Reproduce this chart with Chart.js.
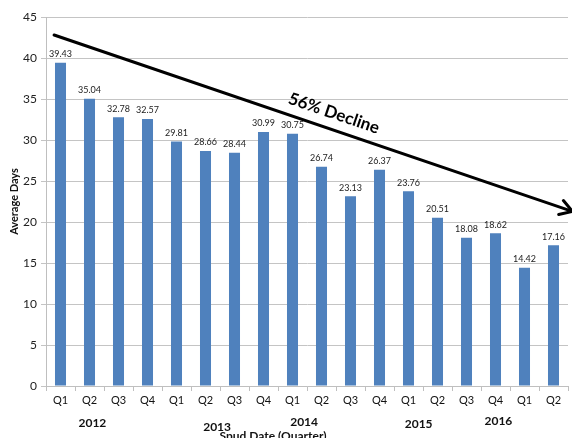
<!DOCTYPE html>
<html>
<head>
<meta charset="utf-8">
<script src="https://cdn.jsdelivr.net/npm/chart.js@4"></script>
<style>
  html, body { margin: 0; padding: 0; background: #fff; }
  #wrap { width: 572px; height: 438px; }
</style>
</head>
<body>
<div id="wrap"><canvas id="chart"></canvas></div>
<script>
// data
const quarters = ['Q1', 'Q2', 'Q3', 'Q4', 'Q1', 'Q2', 'Q3', 'Q4', 'Q1', 'Q2', 'Q3', 'Q4', 'Q1', 'Q2', 'Q3', 'Q4', 'Q1', 'Q2'];
const avg_days = [39.43, 35.04, 32.78, 32.57, 29.81, 28.66, 28.44, 30.99, 30.75, 26.74, 23.13, 26.37, 23.76, 20.51, 18.08, 18.62, 14.42, 17.16];
const year_labels = ['2012', '2013', '2014', '2015', '2016'];
const y_title = 'Average Days';
const x_title = 'Spud Date (Quarter)';
const arrow_label = '56% Decline';

const font_family = 'Lato, "Open Sans", sans-serif';

// etiquetas de valor encima de cada barra
const value_labels = {
  id: 'value_labels',
  afterDatasetsDraw(chart) {
    const ctx = chart.ctx;
    const meta = chart.getDatasetMeta(0);
    ctx.save();
    ctx.font = '9px ' + font_family;
    ctx.fillStyle = '#222';
    ctx.textAlign = 'center';
    ctx.textBaseline = 'bottom';
    meta.data.forEach((bar, i) => {
      ctx.fillText(avg_days[i].toFixed(2), bar.x, bar.y - 4);
    });
    ctx.restore();
  }
};

// flecha de tendencia, años y título del eje X
const extras = {
  id: 'extras',
  afterDraw(chart) {
    const ctx = chart.ctx;
    const x = chart.scales.x;
    const y = chart.scales.y;
    const step = x.getPixelForValue(1) - x.getPixelForValue(0);
    const px = idx => x.getPixelForValue(0) + idx * step;

    // arrow
    const x1 = px(-0.22), y1 = y.getPixelForValue(42.8);
    const x2 = px(17.65), y2 = y.getPixelForValue(21.3);
    const ang = Math.atan2(y2 - y1, x2 - x1);
    ctx.save();
    ctx.strokeStyle = '#000';
    ctx.lineWidth = 3;
    ctx.lineCap = 'round';
    ctx.beginPath();
    ctx.moveTo(x1, y1);
    ctx.lineTo(x2, y2);
    ctx.stroke();
    const head = 14;
    ctx.beginPath();
    ctx.moveTo(x2 - head * Math.cos(ang - 0.55), y2 - head * Math.sin(ang - 0.55));
    ctx.lineTo(x2, y2);
    ctx.lineTo(x2 - head * Math.cos(ang + 0.55), y2 - head * Math.sin(ang + 0.55));
    ctx.stroke();

    // arrow label
    const t = 0.53;
    const cx = x1 + (x2 - x1) * t, cy = y1 + (y2 - y1) * t;
    ctx.translate(cx + 16 * Math.sin(ang), cy - 16 * Math.cos(ang));
    ctx.rotate(ang);
    ctx.font = 'bold 17px ' + font_family;
    ctx.fillStyle = '#000';
    ctx.textAlign = 'center';
    ctx.textBaseline = 'middle';
    ctx.fillText(arrow_label, 0, 0);
    ctx.restore();

    // year labels
    const year_pos = [[1.1, 423], [5.4, 427], [8.4, 422], [12.35, 424], [15.1, 421]];
    ctx.save();
    ctx.font = 'bold 12px ' + font_family;
    ctx.fillStyle = '#111';
    ctx.textAlign = 'center';
    ctx.textBaseline = 'middle';
    year_labels.forEach((lab, i) => {
      ctx.fillText(lab, px(year_pos[i][0]), year_pos[i][1]);
    });
    ctx.fillText(x_title, 273, 436);
    ctx.restore();
  }
};

new Chart(document.getElementById('chart').getContext('2d'), {
  type: 'bar',
  data: {
    labels: quarters,
    datasets: [{
      data: avg_days,
      backgroundColor: '#4F81BD',
      borderWidth: 0,
      categoryPercentage: 1,
      barPercentage: 0.38
    }]
  },
  options: {
    responsive: true,
    maintainAspectRatio: false,
    animation: false,
    layout: { padding: { top: 17, right: 4, left: 0, bottom: 0 } },
    plugins: {
      legend: { display: false },
      tooltip: { enabled: false }
    },
    scales: {
      x: {
        grid: {
          drawOnChartArea: false,
          tickLength: 5,
          color: '#bfbfbf'
        },
        border: { color: '#bfbfbf' },
        ticks: {
          font: { family: font_family, size: 11 },
          color: '#111',
          padding: 3,
          maxRotation: 0
        },
        afterFit(scale) { scale.height = 52; }
      },
      y: {
        min: 0,
        max: 45,
        ticks: {
          stepSize: 5,
          font: { family: font_family, size: 12 },
          color: '#222',
          padding: 4
        },
        grid: { color: '#c4c4c4', tickLength: 5 },
        border: { color: '#bfbfbf' },
        title: {
          display: true,
          text: y_title,
          font: { family: font_family, size: 11, weight: 'bold' },
          color: '#111',
          padding: { top: 8, bottom: 0 }
        },
        afterFit(scale) { scale.width = 46; }
      }
    }
  },
  plugins: [value_labels, extras]
});
</script>
</body>
</html>
